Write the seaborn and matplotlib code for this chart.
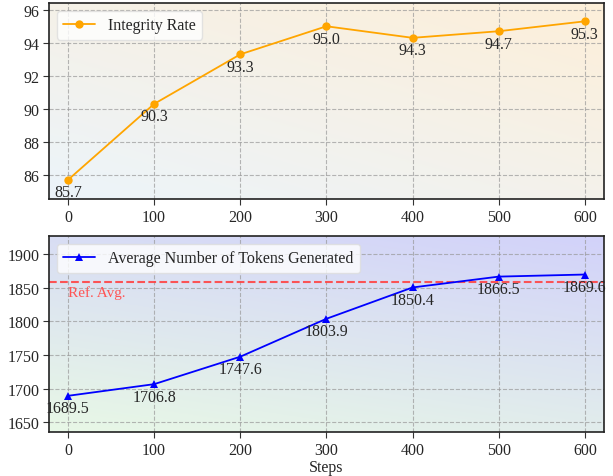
import numpy as np
import matplotlib
matplotlib.use("Agg")
import matplotlib.pyplot as plt
import seaborn as sns
import pandas as pd
from matplotlib.colors import LinearSegmentedColormap

steps = [0, 100, 200, 300, 400, 500, 600]
integrity = [85.7, 90.3, 93.3, 95.0, 94.3, 94.7, 95.3]
tokens = [1689.5, 1706.8, 1747.6, 1803.9, 1850.4, 1866.5, 1869.6]
ref_avg = 1858

sns.set_style("whitegrid")
plt.rcParams['font.family'] = ['Liberation Serif', 'DejaVu Serif']
plt.rcParams['font.size'] = 11


def gradient_bg(ax, c0, c1, wx, wy):
    xx, yy = np.meshgrid(np.linspace(0, 1, 200), np.linspace(0, 1, 200))
    t = (wx * xx + wy * yy) / (wx + wy)
    cmap = LinearSegmentedColormap.from_list("g", [c0, c1])
    ax.imshow(t, cmap=cmap, extent=[0, 1, 0, 1], origin="lower",
              transform=ax.transAxes, aspect="auto", zorder=0)


def style_axes(ax):
    ax.grid(True, linestyle="--", color="#999999", alpha=0.7, linewidth=0.8)
    for s in ax.spines.values():
        s.set_color("#222222")
        s.set_linewidth(1.2)
    ax.tick_params(axis="both", which="both", direction="out", length=4,
                   width=0.8, color="#333333", labelsize=11.5, bottom=True, left=True,
                   pad=3)


df = pd.DataFrame({"Steps": steps, "Integrity Rate": integrity, "Tokens": tokens})

fig = plt.figure(figsize=(6.13, 4.77), dpi=100)
ax1 = fig.add_axes([0.080, 0.581, 0.905, 0.411])
ax2 = fig.add_axes([0.080, 0.092, 0.905, 0.411])

# top panel
gradient_bg(ax1, "#ecf4fa", "#fdefd9", 1.0, 1.2)
sns.lineplot(data=df, x="Steps", y="Integrity Rate", ax=ax1, color="orange",
             marker="o", markersize=6, markeredgewidth=0, linewidth=1.3,
             label="Integrity Rate", zorder=3)
for x, y in zip(steps, integrity):
    ax1.annotate(f"{y:.1f}", (x, y), xytext=(0, -9), textcoords="offset points",
                 ha="center", va="center", fontsize=11.5)
ax1.set_xlim(-22, 622)
ax1.set_ylim(84.55, 96.42)
ax1.set_xticks(steps)
ax1.set_yticks([86, 88, 90, 92, 94, 96])
ax1.set_xlabel("")
ax1.set_ylabel("")
style_axes(ax1)
ax1.legend(loc="upper left", fontsize=11.5, frameon=True, fancybox=True,
           framealpha=0.8, facecolor="white", edgecolor="#dddddd")

# bottom panel
gradient_bg(ax2, "#e8f8e6", "#d2d2fa", 0.5, 1.2)
sns.lineplot(data=df, x="Steps", y="Tokens", ax=ax2, color="blue",
             marker="^", markersize=6, markeredgewidth=0, linewidth=1.3,
             label="Average Number of Tokens Generated", zorder=3)
ax2.axhline(ref_avg, color="#ff4444", linestyle="--", linewidth=1.5, alpha=0.9, zorder=2)
ax2.text(0, ref_avg - 4, "Ref. Avg.", color="#ff5555", fontsize=11,
         ha="left", va="top", zorder=4)
for x, y in zip(steps, tokens):
    ax2.annotate(f"{y:.1f}", (x, y), xytext=(0, -9), textcoords="offset points",
                 ha="center", va="center", fontsize=11.5)
ax2.set_xlim(-22, 622)
ax2.set_ylim(1635.6, 1926.7)
ax2.set_xticks(steps)
ax2.set_yticks([1650, 1700, 1750, 1800, 1850, 1900])
ax2.set_xlabel("Steps", fontsize=11.5, labelpad=1)
ax2.set_ylabel("")
style_axes(ax2)
ax2.legend(loc="upper left", fontsize=11.5, frameon=True, fancybox=True,
           framealpha=0.8, facecolor="white", edgecolor="#dddddd")

fig.savefig("out.png", dpi=100)
